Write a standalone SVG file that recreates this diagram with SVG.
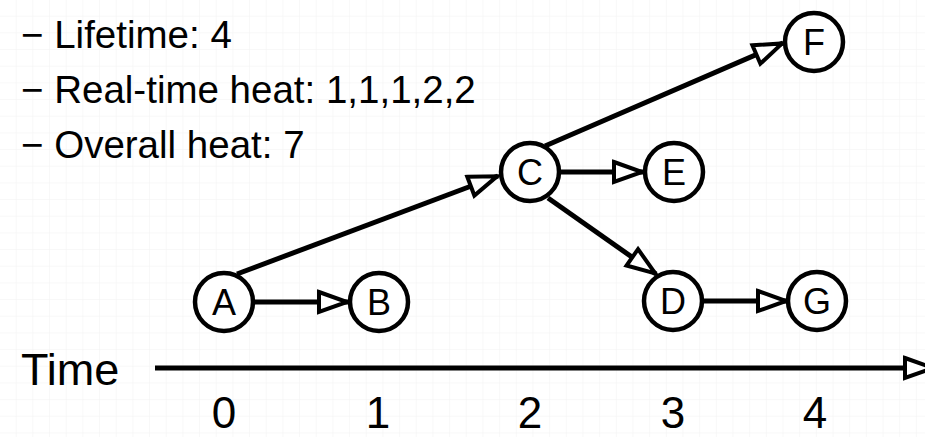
<svg xmlns="http://www.w3.org/2000/svg" width="925" height="437" viewBox="0 0 925 437">
  <defs>
    <pattern id="grid" width="16.67" height="16.67" patternUnits="userSpaceOnUse">
      <path d="M16.67 0 V16.67 M0 16.67 H16.67" fill="none" stroke="#f2f2f2" stroke-width="1"/>
    </pattern>
    <marker id="arr" markerUnits="userSpaceOnUse" markerWidth="40" markerHeight="30" refX="32" refY="13" orient="auto" overflow="visible">
      <path d="M3,3 L31,13 L3,23 Z" fill="#fff" stroke="#000" stroke-width="4" stroke-linejoin="miter"/>
    </marker>
    <style>
      .node circle { fill: #fff; stroke: #000; stroke-width: 4.5; }
      .node text { font-family: "Liberation Sans", Arial, sans-serif; font-size: 36px; text-anchor: middle; fill: #000; }
      .edge { stroke: #000; stroke-width: 5; fill: none; marker-end: url(#arr); }
      .info { font-family: "Liberation Sans", Arial, sans-serif; font-size: 38.5px; fill: #000; }
      .big { font-family: "Liberation Sans", Arial, sans-serif; font-size: 45px; fill: #000; }
      .tick { text-anchor: middle; font-size: 44px; }
    </style>
  </defs>
  <rect width="925" height="437" fill="#fff"/>
  <rect width="925" height="437" fill="url(#grid)"/>

  <g id="info">
    <text class="info" x="21" y="48">− Lifetime: 4</text>
    <text class="info" x="21" y="103">− Real-time heat: 1,1,1,2,2</text>
    <text class="info" x="21" y="158">− Overall heat: 7</text>
  </g>

  <g id="connectors">
    <line class="edge" x1="254" y1="302" x2="348" y2="302"/>
    <line class="edge" x1="237" y1="274" x2="498" y2="176"/>
    <line class="edge" x1="545" y1="146" x2="783" y2="43"/>
    <line class="edge" x1="561" y1="172" x2="643" y2="172"/>
    <line class="edge" x1="548" y1="198" x2="656" y2="274"/>
    <line class="edge" x1="703" y1="301" x2="787" y2="301"/>
    <line class="edge" x1="155" y1="368" x2="934" y2="368"/>
  </g>

  <g id="A" class="node"><circle cx="224" cy="302" r="29"/><text x="224" y="315">A</text></g>
  <g id="B" class="node"><circle cx="379" cy="302" r="29"/><text x="379" y="315">B</text></g>
  <g id="C" class="node"><circle cx="530" cy="172" r="29"/><text x="530" y="185">C</text></g>
  <g id="E" class="node"><circle cx="674" cy="172" r="29"/><text x="674" y="185">E</text></g>
  <g id="D" class="node"><circle cx="673" cy="301" r="29"/><text x="673" y="314">D</text></g>
  <g id="G" class="node"><circle cx="817" cy="301" r="29"/><text x="817" y="314">G</text></g>
  <g id="F" class="node"><circle cx="814" cy="42" r="29"/><text x="814" y="55">F</text></g>

  <g id="axis">
    <text class="big" x="21" y="385">Time</text>
    <text class="big tick" x="224" y="428">0</text>
    <text class="big tick" x="378" y="428">1</text>
    <text class="big tick" x="530" y="428">2</text>
    <text class="big tick" x="673" y="428">3</text>
    <text class="big tick" x="815" y="428">4</text>
  </g>
</svg>
